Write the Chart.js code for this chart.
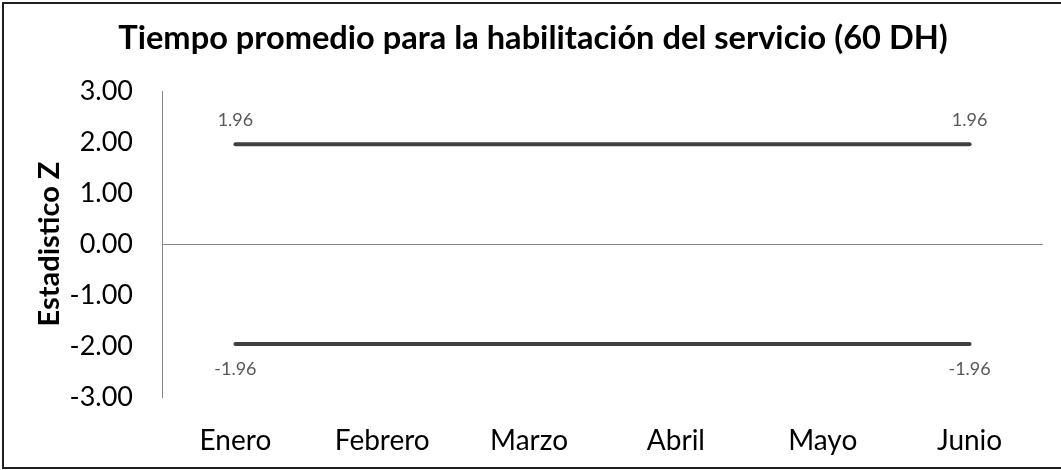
<!DOCTYPE html>
<html>
<head>
<meta charset="utf-8">
<script src="https://cdn.jsdelivr.net/npm/chart.js@4.4.1/dist/chart.umd.min.js"></script>
<style>
  html, body { margin: 0; padding: 0; background: #fff; overflow: hidden; }
  #wrap { position: relative; width: 1061px; height: 470px; }
  #frame { position: absolute; left: 2px; top: 2px; width: 1080px; height: 467px;
           border: 2px solid #1f1f1f; box-sizing: border-box; pointer-events: none; }
  canvas { position: absolute; left: 0; top: 0; }
</style>
</head>
<body>
<div id="wrap">
  <canvas id="chart" width="1061" height="470"></canvas>
  <div id="frame"></div>
</div>
<script>
// Months on the horizontal axis
const months = ['Enero', 'Febrero', 'Marzo', 'Abril', 'Mayo', 'Junio'];
// Upper and lower critical values of the Z statistic
const upperLimit = [1.96, 1.96, 1.96, 1.96, 1.96, 1.96];
const lowerLimit = [-1.96, -1.96, -1.96, -1.96, -1.96, -1.96];
// Vertical axis range
const yMin = -3;
const yMax = 3;
const yStep = 1;

const FONT = 'Lato, "Open Sans", "Liberation Sans", sans-serif';

// Value labels on the first and last point of each line
const endLabels = {
  id: 'endLabels',
  afterDatasetsDraw(chart) {
    const ctx = chart.ctx;
    ctx.save();
    ctx.font = '18px ' + FONT;
    ctx.fillStyle = '#595959';
    ctx.textAlign = 'center';
    ctx.textBaseline = 'middle';
    chart.data.datasets.forEach((ds, i) => {
      const meta = chart.getDatasetMeta(i);
      const last = meta.data.length - 1;
      [0, last].forEach(idx => {
        const pt = meta.data[idx];
        const v = ds.data[idx];
        const dy = v >= 0 ? -24 : 25;
        ctx.fillText(v.toFixed(2), pt.x, pt.y + dy);
      });
    });
    ctx.restore();
  }
};

new Chart(document.getElementById('chart'), {
  type: 'line',
  data: {
    labels: months,
    datasets: [
      { data: upperLimit, borderColor: '#404040', borderWidth: 4, pointRadius: 0,
        borderCapStyle: 'round', fill: false, tension: 0 },
      { data: lowerLimit, borderColor: '#404040', borderWidth: 4, pointRadius: 0,
        borderCapStyle: 'round', fill: false, tension: 0 }
    ]
  },
  options: {
    responsive: false,
    animation: false,
    layout: { padding: { left: 23, right: 18, top: 0, bottom: 0 } },
    plugins: {
      legend: { display: false },
      tooltip: { enabled: false },
      title: {
        display: true,
        text: 'Tiempo promedio para la habilitación del servicio (60 DH)',
        color: '#000',
        font: { family: FONT, size: 32.6, weight: 'bold' },
        padding: { top: 19, bottom: 33 }
      }
    },
    scales: {
      x: {
        offset: true,
        grid: { display: false, drawTicks: false },
        border: { display: false },
        ticks: { color: '#000', font: { family: FONT, size: 28 }, padding: 27, maxRotation: 0 },
        afterFit(scale) { scale.height = 73; }
      },
      y: {
        min: yMin,
        max: yMax,
        ticks: {
          stepSize: yStep,
          color: '#000',
          padding: 29,
          font: { family: FONT, size: 27 },
          callback: v => v.toFixed(2)
        },
        grid: {
          drawTicks: false,
          color: c => (c.tick && c.tick.value === 0 ? '#868686' : 'rgba(0,0,0,0)'),
          lineWidth: 1
        },
        border: { display: true, color: '#868686', width: 1 },
        title: {
          display: true,
          text: 'Estadistico Z',
          color: '#000',
          font: { family: FONT, size: 29, weight: 'bold' },
          padding: { top: 9, bottom: 0 }
        },
        afterFit(scale) { scale.width = 139; }
      }
    }
  },
  plugins: [endLabels]
});
</script>
</body>
</html>
